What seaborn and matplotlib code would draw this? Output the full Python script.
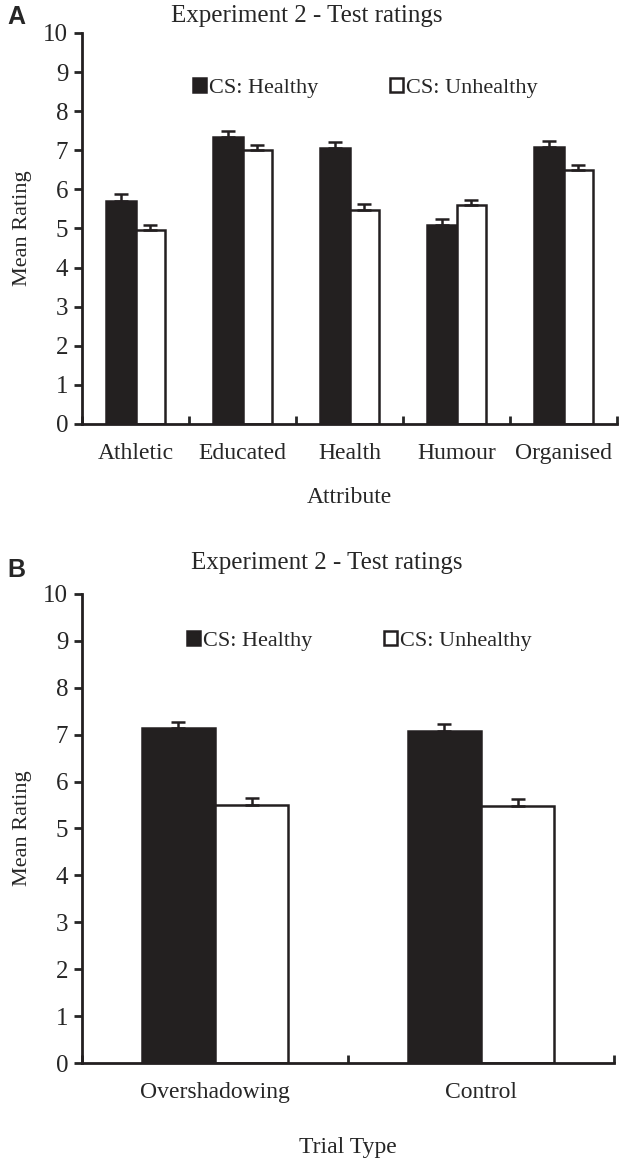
import numpy as np
import pandas as pd
import matplotlib
matplotlib.use('Agg')
import matplotlib.pyplot as plt
import seaborn as sns
from matplotlib.ticker import FixedLocator

# Panel A data
attributes = ['Athletic', 'Educated', 'Health', 'Humour', 'Organised']
healthy_a = [5.71, 7.34, 7.07, 5.08, 7.09]
unhealthy_a = [4.95, 7.00, 5.47, 5.59, 6.49]
healthy_a_err = [0.17, 0.15, 0.14, 0.16, 0.15]
unhealthy_a_err = [0.14, 0.13, 0.16, 0.14, 0.14]

# Panel B data
trial_types = ['Overshadowing', 'Control']
healthy_b = [7.14, 7.07]
unhealthy_b = [5.50, 5.48]
healthy_b_err = [0.14, 0.15]
unhealthy_b_err = [0.15, 0.15]

conditions = ['CS: Healthy', 'CS: Unhealthy']
title = 'Experiment 2 - Test ratings'

sns.set_style('white')
plt.rcParams['font.family'] = ['Liberation Serif', 'DejaVu Serif']
plt.rcParams['axes.linewidth'] = 2


def make_df(cats, healthy, unhealthy):
    return pd.DataFrame({
        'cat': cats * 2,
        'cond': [conditions[0]] * len(cats) + [conditions[1]] * len(cats),
        'val': list(healthy) + list(unhealthy),
    })


def draw_panel(ax, cats, healthy, unhealthy, h_err, u_err, xlabel, legend_y, legend_x,
               title_x, title_pad, xlabel_pad):
    df = make_df(cats, healthy, unhealthy)
    sns.barplot(data=df, x='cat', y='val', hue='cond', order=cats, hue_order=conditions,
                palette=['#231f20', 'white'], edgecolor='#231f20', linewidth=1.8,
                width=0.55, errorbar=None, ax=ax)
    # upward error bars only
    n = len(cats)
    bars = [p for p in ax.patches if p.get_height() > 0][:2 * n]
    errs = list(h_err) + list(u_err)
    for p, e in zip(bars, errs):
        xc = p.get_x() + p.get_width() / 2
        ax.errorbar(xc, p.get_height(), yerr=[[0], [e]], fmt='none', ecolor='#231f20',
                    elinewidth=1.8, capsize=5, capthick=1.8)

    ax.set_ylim(0, 10)
    ax.set_xlim(-0.5, n - 0.5)
    ax.set_yticks(range(0, 11))
    ax.tick_params(axis='y', direction='out', length=6, width=2, labelsize=18, left=True, pad=4)
    ax.tick_params(axis='x', which='major', length=0, labelsize=17, pad=14)
    ax.xaxis.set_minor_locator(FixedLocator(np.arange(-0.5, n, 1.0)))
    ax.tick_params(axis='x', which='minor', direction='in', length=6, width=2, bottom=True)
    sns.despine(ax=ax)
    for s in ['left', 'bottom']:
        ax.spines[s].set_color('#231f20')

    ax.set_xlabel(xlabel, fontsize=17, labelpad=xlabel_pad)
    ax.set_ylabel('Mean Rating', fontsize=16, labelpad=8)
    ax.set_title(title, fontsize=18, pad=title_pad, x=title_x)

    handles, labels = ax.get_legend_handles_labels()
    ax.legend(handles, labels, loc='center left', bbox_to_anchor=(legend_x, legend_y),
              ncol=2, frameon=False, fontsize=16, handlelength=0.6, handleheight=0.6,
              handletextpad=0.15, columnspacing=3.2, borderaxespad=0)


fig = plt.figure(figsize=(6.22, 11.61), dpi=100)
ax_a = fig.add_axes([0.132, 0.6348, 0.860, 0.3368])
ax_b = fig.add_axes([0.132, 0.0844, 0.855, 0.4040])

draw_panel(ax_a, attributes, healthy_a, unhealthy_a, healthy_a_err, unhealthy_a_err,
           'Attribute', 0.86, 0.19, 0.42, 8, 16)
draw_panel(ax_b, trial_types, healthy_b, unhealthy_b, healthy_b_err, unhealthy_b_err,
           'Trial Type', 0.90, 0.18, 0.46, 18, 24)

fig.text(0.012, 0.985, 'A', fontsize=18, fontweight='bold', family='Liberation Sans', va='center')
fig.text(0.012, 0.509, 'B', fontsize=18, fontweight='bold', family='Liberation Sans', va='center')

fig.savefig('out.png', dpi=100)
